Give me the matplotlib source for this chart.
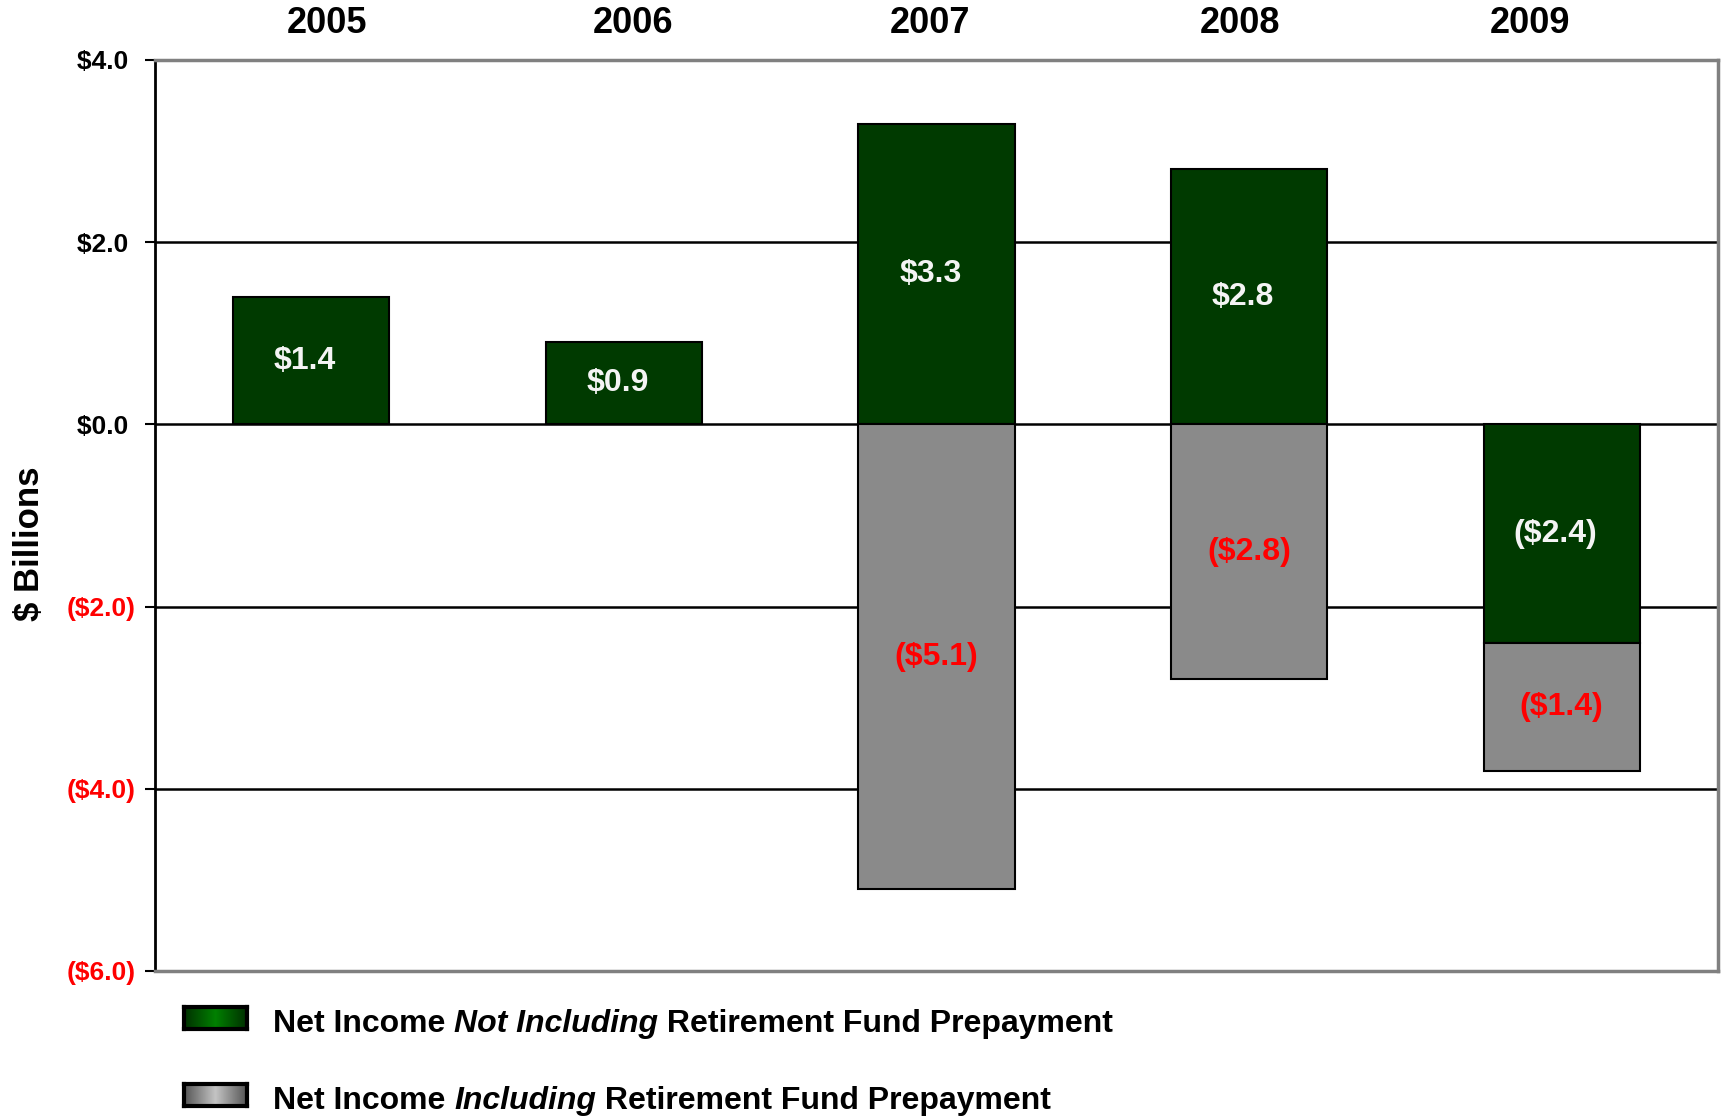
import matplotlib
matplotlib.use('Agg')
import matplotlib.pyplot as plt
import numpy as np
from matplotlib.offsetbox import TextArea, HPacker, AnnotationBbox

plt.rcParams['font.family'] = ['Liberation Sans', 'DejaVu Sans']

years = ['2005', '2006', '2007', '2008', '2009']
# net income without the retirement fund prepayment ($ billions)
net_not_incl = [1.4, 0.9, 3.3, 2.8, -2.4]
# net income with the prepayment; 2009 is shown as an extra loss stacked below
net_incl = [None, None, -5.1, -2.8, -1.4]
incl_base = [0, 0, 0, 0, -2.4]

yticks = [4, 2, 0, -2, -4, -6]

green = '#003a00'
grey = '#8a8a8a'


def money(v):
    if v < 0:
        return '(${:.1f})'.format(-v)
    return '${:.1f}'.format(v)


fig = plt.figure(figsize=(17.21, 11.18), dpi=100)
ax = fig.add_axes([155 / 1721, 1 - 971 / 1118, 1563 / 1721, 911 / 1118])

x = np.arange(len(years))
w = 0.5

for i in range(len(years)):
    v = net_not_incl[i]
    ax.bar(x[i], v, w, color=green, edgecolor='black', linewidth=1.5, zorder=3)
    ax.text(x[i] - 0.02, v / 2, money(v), ha='center', va='center',
            color='#f4f4f4', fontsize=23, fontweight='bold', zorder=5)
    g = net_incl[i]
    if g is not None:
        b = incl_base[i]
        ax.bar(x[i], g, w, bottom=b, color=grey, edgecolor='black',
               linewidth=1.5, zorder=3)
        ax.text(x[i], b + g / 2, money(g), ha='center', va='center',
                color='#ff0000', fontsize=23, fontweight='bold', zorder=5)

ax.set_xlim(-0.5, len(years) - 0.5)
ax.set_ylim(-6, 4)
ax.set_yticks(yticks)
# positive labels get a trailing space so the digits line up with "(...)" ones
ax.set_yticklabels([money(t) if t < 0 else money(t) + ' ' for t in yticks],
                   fontsize=19, fontweight='bold')
for lab, t in zip(ax.get_yticklabels(), yticks):
    lab.set_color('#ff0000' if t < 0 else 'black')
ax.set_xticks([])
ax.tick_params(axis='y', length=7, width=1.5, pad=7)

for t in yticks[1:-1]:
    ax.axhline(t, color='black', linewidth=1.8, zorder=1)

ax.spines['left'].set_color('black')
ax.spines['left'].set_linewidth(2)
for s in ['top', 'right', 'bottom']:
    ax.spines[s].set_color('#808080')
    ax.spines[s].set_linewidth(2.5)

# year headings above the plot
year_shift = [0.05, 0.03, -0.02, -0.03, -0.1]
for i, yr in enumerate(years):
    ax.text(x[i] + year_shift[i], 1.04, yr, transform=ax.get_xaxis_transform(),
            ha='center', va='center', fontsize=26, fontweight='bold')

fig.text(29 / 1721, 1 - 544 / 1118, '$ Billions', rotation=90, ha='center',
         va='center', fontsize=25, fontweight='bold')

# legend with gradient swatches
legend_rows = [
    (['Net Income ', 'Not Including', ' Retirement Fund Prepayment'],
     ['#003000', '#008000'], 1018),
    (['Net Income ', 'Including', ' Retirement Fund Prepayment'],
     ['#555555', '#c4c4c4'], 1095),
]
for parts, (c_edge, c_mid), yc in legend_rows:
    sw = fig.add_axes([184 / 1721, 1 - (yc + 11) / 1118, 63 / 1721, 22 / 1118])
    ramp = np.abs(np.linspace(-1, 1, 100))
    c0 = np.array(matplotlib.colors.to_rgb(c_mid))
    c1 = np.array(matplotlib.colors.to_rgb(c_edge))
    img = c0[None, None, :] * (1 - ramp[None, :, None]) + c1[None, None, :] * ramp[None, :, None]
    sw.imshow(img, aspect='auto', extent=[0, 1, 0, 1])
    sw.set_xticks([])
    sw.set_yticks([])
    for s in sw.spines.values():
        s.set_linewidth(3)
        s.set_color('black')

    areas = []
    for j, p in enumerate(parts):
        style = 'italic' if j == 1 else 'normal'
        areas.append(TextArea(p, textprops=dict(fontsize=23, fontweight='bold',
                                                fontstyle=style)))
    box = HPacker(children=areas, align='baseline', pad=0, sep=0)
    ab = AnnotationBbox(box, (273 / 1721, 1 - (yc + 6) / 1118), xycoords='figure fraction',
                        box_alignment=(0, 0.5), frameon=False, pad=0)
    fig.add_artist(ab)

plt.savefig('out.png', dpi=100)
